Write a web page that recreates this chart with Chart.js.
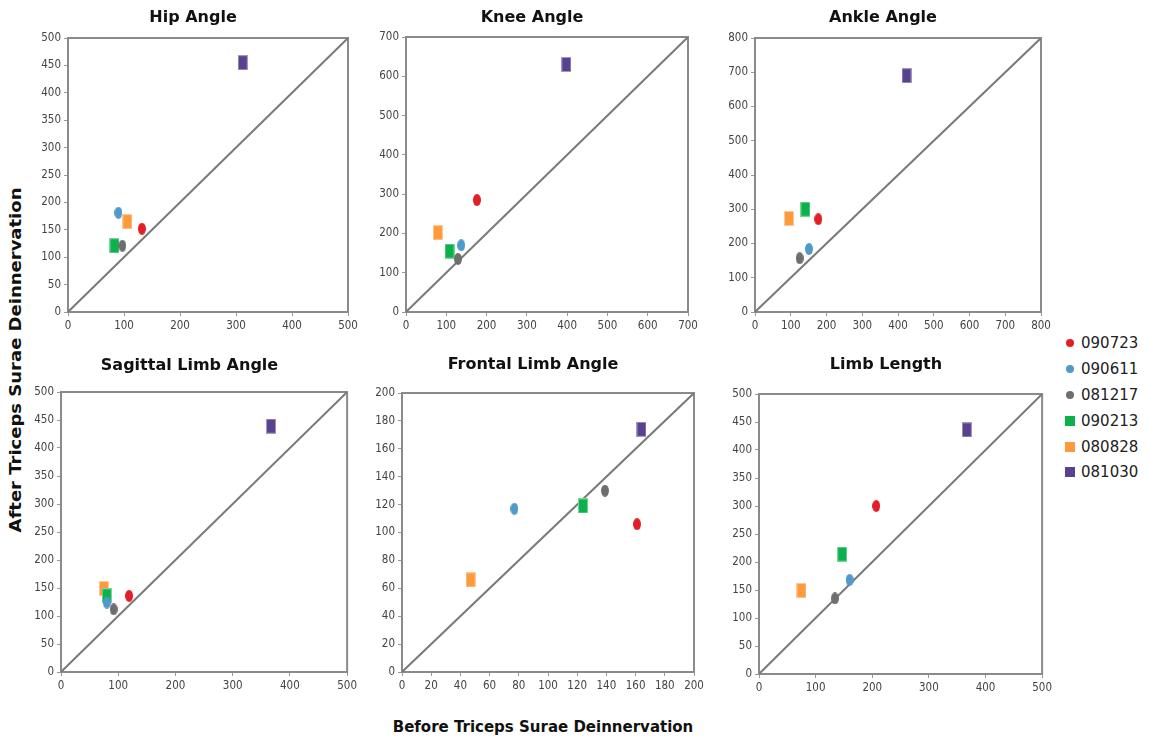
<!DOCTYPE html>
<html>
<head>
<meta charset="utf-8">
<script src="https://cdn.jsdelivr.net/npm/chart.js@4.4.1/dist/chart.umd.min.js"></script>
<style>
  body { margin: 0; background: #fff; width: 1150px; height: 736px; position: relative; overflow: hidden;
         font-family: 'DejaVu Sans', Verdana, sans-serif; }
  canvas { position: absolute; }
  .axis-title { position: absolute; font-weight: bold; font-size: 15px; color: #111; white-space: nowrap; }
  #xTitle { left: 543px; top: 727px; transform: translate(-50%, -50%); }
  #yTitle { left: 16px; top: 360px; transform: translate(-50%, -50%) rotate(-90deg) scaleX(1.2); }
  #legend { position: absolute; left: 1064px; top: 330px; }
  .item { height: 25.9px; display: flex; align-items: center; font-size: 15px; color: #222; }
  .mk { width: 12px; display: flex; justify-content: center; margin-right: 5px; }
</style>
</head>
<body>
<div class="axis-title" id="yTitle">After Triceps Surae Deinnervation</div>
<div class="axis-title" id="xTitle">Before Triceps Surae Deinnervation</div>
<div id="legend"></div>
<script>
// Subjects (legend order)
const subjects = ['090723', '090611', '081217', '090213', '080828', '081030'];
const subjectColors = ['#e31e26', '#4f99cb', '#6d6f6f', '#0bb14b', '#fd9a3b', '#58428f'];
const subjectShapes = ['circle', 'circle', 'circle', 'square', 'square', 'square'];

// Panels
const panelTitles = ['Hip Angle', 'Knee Angle', 'Ankle Angle', 'Sagittal Limb Angle', 'Frontal Limb Angle', 'Limb Length'];
const axisMax = [500, 700, 800, 500, 200, 500];
const xStep = [100, 100, 100, 100, 20, 100];
const yStep = [50, 100, 100, 50, 20, 50];

// Values per panel, one entry per subject: before (x) and after (y)
const hipBefore = [132, 90, 97, 83, 106, 312];
const hipAfter = [152, 181, 121, 121, 165, 455];
const kneeBefore = [176, 137, 129, 108, 79, 398];
const kneeAfter = [285, 170, 135, 155, 202, 630];
const ankleBefore = [177, 151, 125, 141, 95, 424];
const ankleAfter = [271, 184, 157, 300, 273, 690];
const sagittalBefore = [119, 80, 92, 80, 75, 367];
const sagittalAfter = [136, 124, 112, 136, 149, 439];
const frontalBefore = [161, 77, 139, 124, 47, 164];
const frontalAfter = [106, 117, 130, 119, 66, 174];
const limbBefore = [207, 160, 134, 147, 75, 367];
const limbAfter = [300, 168, 135, 214, 149, 436];

const beforeValues = [hipBefore, kneeBefore, ankleBefore, sagittalBefore, frontalBefore, limbBefore];
const afterValues = [hipAfter, kneeAfter, ankleAfter, sagittalAfter, frontalAfter, limbAfter];

// page layout: plot box [left, top, right, bottom] and title centre
const layouts = [
  { plot: [68, 38, 348, 312], title: [200, 18] },
  { plot: [406, 37, 688, 312], title: [556, 18] },
  { plot: [755, 38, 1041, 312], title: [890, 18] },
  { plot: [61, 392, 348, 672], title: [189, 366] },
  { plot: [402, 393, 694, 672], title: [540, 365] },
  { plot: [759, 394, 1043, 674], title: [886, 365] }
];
const Y_W = 30, X_H = 22, RIGHT = 12, TITLE_SIZE = 16, TITLE_PAD = 6;
const tickFont = { family: "'Liberation Sans Narrow', 'DejaVu Sans Condensed', 'Liberation Sans', sans-serif", size: 11.5 };

function makeMarker(shape, color) {
  const c = document.createElement('canvas');
  const g = c.getContext('2d');
  if (shape === 'circle') {
    c.width = 8; c.height = 12;
    g.fillStyle = color;
    g.beginPath();
    g.ellipse(4, 6, 4, 6, 0, 0, Math.PI * 2);
    g.fill();
  } else {
    c.width = 10; c.height = 15;
    g.fillStyle = color;
    g.fillRect(0, 0, 10, 15);
    g.strokeStyle = 'rgba(255,255,255,0.45)';
    g.strokeRect(0.5, 0.5, 9, 14);
  }
  return c;
}
const markers = subjects.map((s, i) => makeMarker(subjectShapes[i], subjectColors[i]));

// box around the plot area
const framePlugin = {
  id: 'frame',
  beforeDatasetsDraw(chart) {
    const { ctx, chartArea: a } = chart;
    ctx.save();
    ctx.strokeStyle = '#8a8a8a';
    ctx.lineWidth = 2;
    ctx.strokeRect(a.left, a.top, a.right - a.left, a.bottom - a.top);
    ctx.restore();
  }
};

function axisOptions(max, step, fitSize, isX) {
  return {
    type: 'linear',
    min: 0,
    max: max,
    afterFit: s => { if (isX) s.height = fitSize; else s.width = fitSize; },
    border: { display: false },
    grid: { drawOnChartArea: false, tickLength: 4, color: '#999' },
    ticks: { stepSize: step, padding: 3, color: '#444', font: tickFont, maxRotation: 0, autoSkip: false }
  };
}

panelTitles.forEach((title, p) => {
  const [L, T, R, B] = layouts[p].plot;
  const [cx, cy] = layouts[p].title;
  const lineH = TITLE_SIZE * 1.2;
  const a = L - Y_W, b = R + RIGHT;
  const shift = 2 * cx - a - b;
  const padL = shift < 0 ? -shift : 0;
  const padR = shift > 0 ? shift : 0;
  const left = a - padL, right = b + padR;
  const top = Math.round(cy - TITLE_PAD - lineH / 2);
  const padBottom = T - top - TITLE_PAD - lineH;

  const canvas = document.createElement('canvas');
  canvas.width = right - left;
  canvas.height = B + X_H - top;
  canvas.style.left = left + 'px';
  canvas.style.top = top + 'px';
  document.body.appendChild(canvas);

  const datasets = subjects.map((s, i) => ({
    label: s,
    data: [{ x: beforeValues[p][i], y: afterValues[p][i] }],
    pointStyle: markers[i],
    pointRadius: 5,
    backgroundColor: subjectColors[i]
  }));
  datasets.push({
    label: 'identity',
    data: [{ x: 0, y: 0 }, { x: axisMax[p], y: axisMax[p] }],
    showLine: true,
    borderColor: '#7a7a7a',
    borderWidth: 2,
    pointRadius: 0
  });

  new Chart(canvas.getContext('2d'), {
    type: 'scatter',
    data: { datasets },
    options: {
      responsive: false,
      animation: false,
      events: [],
      layout: { padding: { left: padL, right: RIGHT + padR, top: 0, bottom: 0 } },
      plugins: {
        legend: { display: false },
        tooltip: { enabled: false },
        title: {
          display: true,
          text: title,
          color: '#111',
          font: { family: "'DejaVu Sans', Verdana, sans-serif", size: TITLE_SIZE, weight: 'bold' },
          padding: { top: TITLE_PAD, bottom: padBottom }
        }
      },
      scales: {
        x: axisOptions(axisMax[p], xStep[p], X_H, true),
        y: axisOptions(axisMax[p], yStep[p], Y_W, false)
      }
    },
    plugins: [framePlugin]
  });
});

// legend
const legend = document.getElementById('legend');
subjects.forEach((s, i) => {
  const item = document.createElement('div');
  item.className = 'item';
  const mk = document.createElement('span');
  mk.className = 'mk';
  const dot = document.createElement('span');
  const size = subjectShapes[i] === 'circle' ? 8 : 10;
  dot.style.cssText = 'display:block;width:' + size + 'px;height:' + size + 'px;background:' + subjectColors[i] +
    (subjectShapes[i] === 'circle' ? ';border-radius:50%' : '');
  mk.appendChild(dot);
  item.appendChild(mk);
  item.appendChild(document.createTextNode(s));
  legend.appendChild(item);
});
</script>
</body>
</html>
